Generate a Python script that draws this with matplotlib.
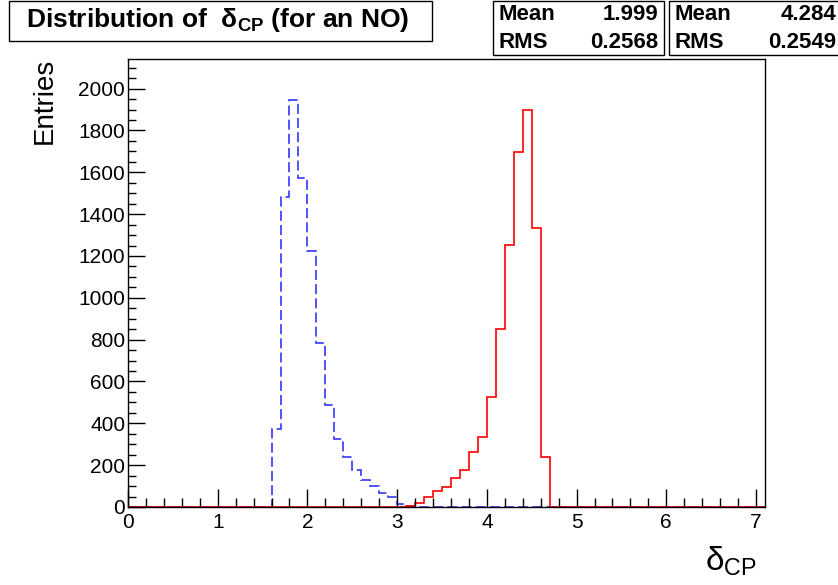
import numpy as np
import matplotlib
matplotlib.use("Agg")
import matplotlib.pyplot as plt
from matplotlib.ticker import MultipleLocator
from matplotlib.patches import Rectangle

plt.rcParams['font.family'] = ['Liberation Sans', 'DejaVu Sans']
plt.rcParams['mathtext.fontset'] = 'custom'
plt.rcParams['mathtext.rm'] = 'Liberation Sans'
plt.rcParams['mathtext.it'] = 'Liberation Sans:italic'
plt.rcParams['mathtext.bf'] = 'Liberation Sans:bold'

# histogram binning: 71 bins of width 0.1 from 0 to 7.1
x_min, x_max, n_bins = 0.0, 7.1, 71

# blue (dashed) histogram: bins starting at 1.6
blue_start = 16
blue_vals = [375, 1482, 1947, 1574, 1224, 785, 486, 327, 237, 176, 129, 100, 65, 46, 13, 3]
# red (solid) histogram: bins starting at 3.1
red_start = 31
red_vals = [5, 18, 46, 78, 97, 138, 176, 265, 335, 526, 851, 1253, 1699, 1898, 1335, 237]

blue_stats = ("1.999", "0.2568")
red_stats = ("4.284", "0.2549")

blue_counts = [0] * blue_start + blue_vals
blue_counts += [0] * (n_bins - len(blue_counts))
red_counts = [0] * red_start + red_vals
red_counts += [0] * (n_bins - len(red_counts))
edges = np.linspace(x_min, x_max, n_bins + 1)

fig = plt.figure(figsize=(8.38, 5.85), dpi=100)
ax = fig.add_axes([128/838, 1-507/585, (765-128)/838, (507-59)/585])

ax.stairs(blue_counts, edges, color='#3535ff', lw=1.2, linestyle=(0, (6, 2.5)))
ax.stairs(red_counts, edges, color='#ff0000', lw=1.2)

ymax = 1.1 * max(max(blue_counts), max(red_counts))
ax.set_xlim(x_min, x_max)
ax.set_ylim(0, ymax)

ax.xaxis.set_major_locator(MultipleLocator(1))
ax.xaxis.set_minor_locator(MultipleLocator(0.2))
ax.yaxis.set_major_locator(MultipleLocator(200))
ax.yaxis.set_minor_locator(MultipleLocator(50))
ax.tick_params(which='both', direction='in', top=False, right=False, labelsize=15, width=1)
ax.tick_params(which='major', axis='x', length=13, pad=4)
ax.tick_params(which='minor', axis='x', length=6.5)
ax.tick_params(which='major', axis='y', length=12, pad=2)
ax.tick_params(which='minor', axis='y', length=6)
for s in ax.spines.values():
    s.set_linewidth(1.0)

fig.text(45/838, 1-58/585, 'Entries', rotation=90, ha='center', va='top', fontsize=20)
fig.text(757/838, 1-578/585, r'δ$_{\mathrm{CP}}$', ha='right', va='bottom', fontsize=24)

# title box
fig.patches.append(Rectangle((9/838, 1-41/585), (432-9)/838, 40/585, transform=fig.transFigure,
                             fill=False, edgecolor='black', lw=1.0))
fig.text(218/838, 1-20/585, r'Distribution of  δ$_{\mathbf{CP}}$ (for an NO)', ha='center', va='center',
         fontsize=19, fontweight='bold')

# stat boxes
def stat_box(x0, x1, stats):
    fig.patches.append(Rectangle((x0/838, 1-55/585), (x1-x0)/838, 54/585, transform=fig.transFigure,
                                 fill=False, edgecolor='black', lw=1.0))
    fig.text((x0+5)/838, 1-15/585, 'Mean', ha='left', va='center', fontsize=16, fontweight='bold')
    fig.text((x1-6)/838, 1-15/585, stats[0], ha='right', va='center', fontsize=16, fontweight='bold')
    fig.text((x0+5)/838, 1-42/585, 'RMS', ha='left', va='center', fontsize=16, fontweight='bold')
    fig.text((x1-6)/838, 1-42/585, stats[1], ha='right', va='center', fontsize=16, fontweight='bold')

stat_box(493, 664, blue_stats)
stat_box(669, 842, red_stats)

fig.savefig('out.png', dpi=100)
